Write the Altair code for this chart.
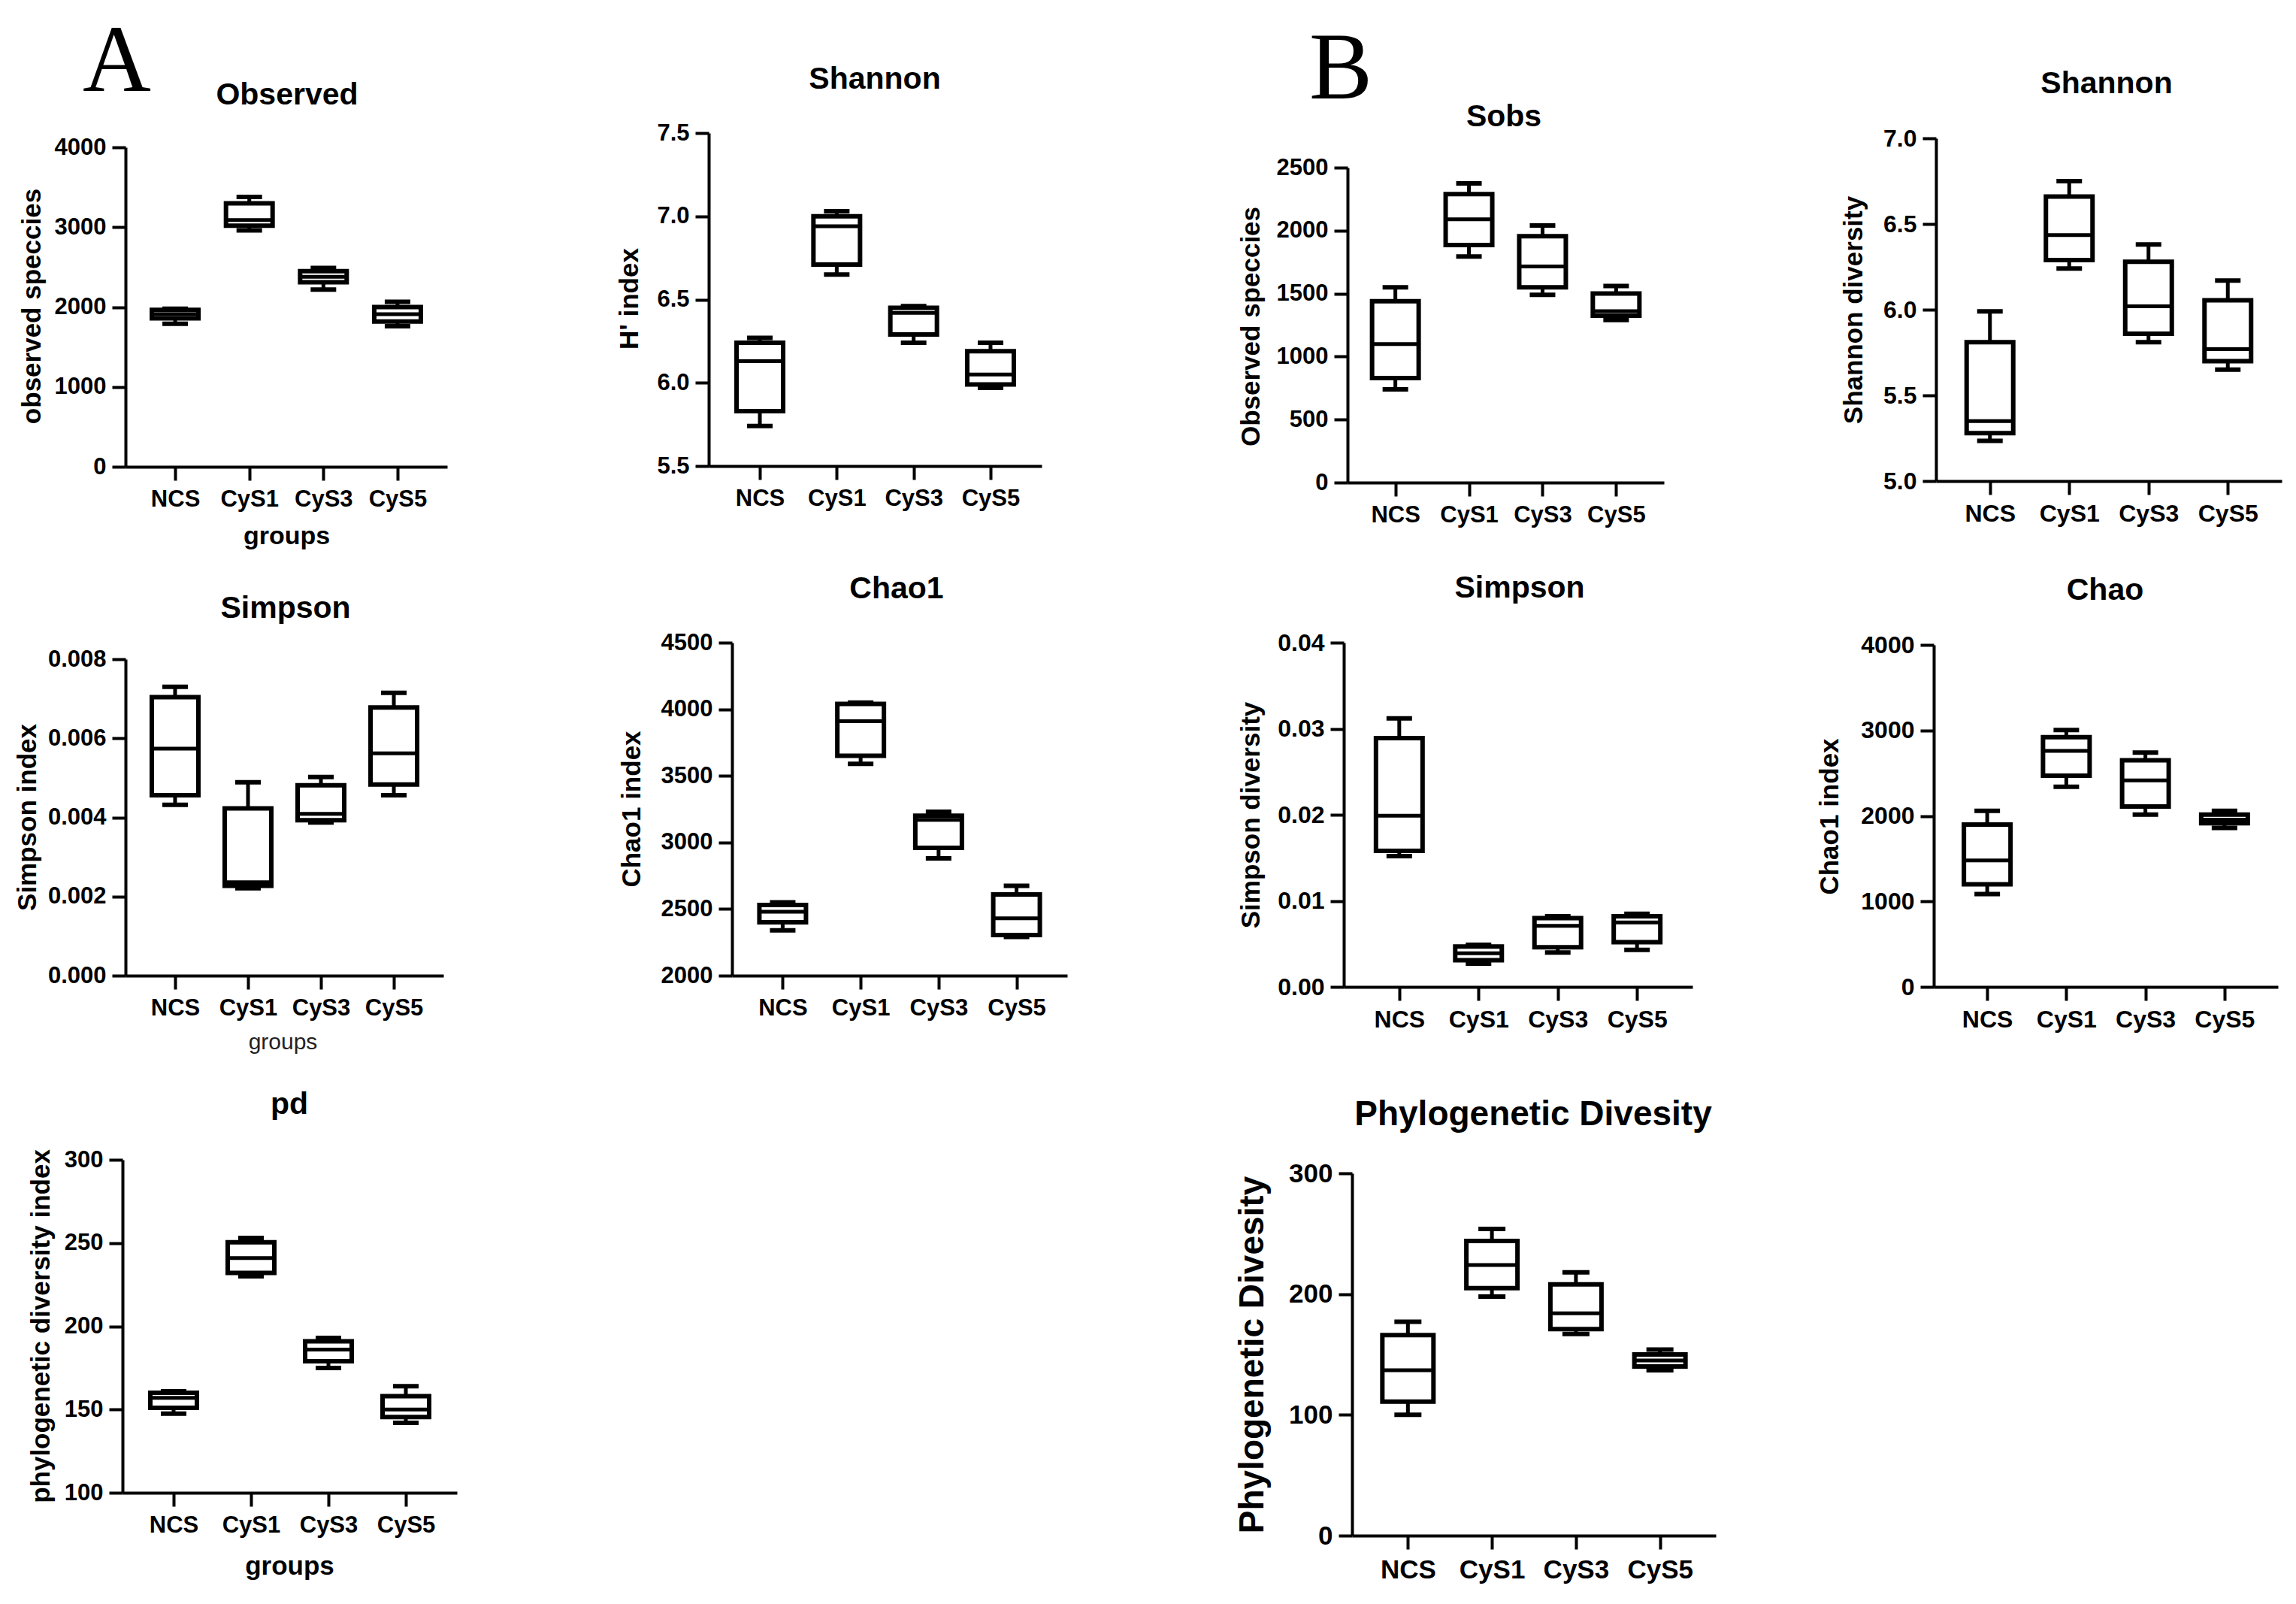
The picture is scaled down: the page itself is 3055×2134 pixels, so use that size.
import altair as alt
import pandas as pd

GROUPS = ["NCS", "CyS1", "CyS3", "CyS5"]

# five-number summaries, one row per group: [min, q1, median, q3, max]
A_OBSERVED = [[1790, 1860, 1910, 1965, 1980],
              [2960, 3020, 3090, 3300, 3380],
              [2220, 2310, 2380, 2450, 2490],
              [1760, 1820, 1910, 2000, 2065]]
A_SHANNON = [[5.74, 5.83, 6.13, 6.24, 6.27],
             [6.65, 6.71, 6.94, 7.00, 7.03],
             [6.24, 6.29, 6.42, 6.45, 6.46],
             [5.97, 5.99, 6.05, 6.19, 6.24]]
A_SIMPSON = [[0.00432, 0.00456, 0.00574, 0.00704, 0.00730],
             [0.00221, 0.00227, 0.00236, 0.00423, 0.00489],
             [0.00387, 0.00393, 0.00409, 0.00481, 0.00502],
             [0.00456, 0.00483, 0.00562, 0.00678, 0.00715]]
A_CHAO1 = [[2340, 2400, 2480, 2530, 2550],
           [3590, 3650, 3910, 4040, 4050],
           [2880, 2960, 3170, 3200, 3230],
           [2290, 2305, 2430, 2610, 2675]]
A_PD = [[147.5, 151, 157, 160, 161],
        [230, 232, 241, 250.5, 253],
        [175, 179, 186, 191, 193],
        [142, 145.5, 150, 158, 164]]
B_SOBS = [[740, 830, 1100, 1440, 1550],
          [1795, 1885, 2090, 2290, 2375],
          [1490, 1550, 1715, 1955, 2040],
          [1290, 1325, 1360, 1500, 1560]]
B_SHANNON = [[5.235, 5.28, 5.35, 5.81, 5.99],
             [6.24, 6.29, 6.435, 6.66, 6.75],
             [5.81, 5.86, 6.02, 6.28, 6.38],
             [5.65, 5.70, 5.77, 6.055, 6.17]]
B_SIMPSON = [[0.0152, 0.0158, 0.0199, 0.0289, 0.0312],
             [0.0027, 0.0031, 0.0039, 0.0047, 0.0049],
             [0.0040, 0.0046, 0.0071, 0.0080, 0.0082],
             [0.0043, 0.0052, 0.0075, 0.0082, 0.0085]]
B_CHAO = [[1085, 1200, 1480, 1900, 2060],
          [2340, 2470, 2760, 2920, 3005],
          [2015, 2110, 2415, 2650, 2740],
          [1860, 1915, 1955, 2015, 2060]]
B_PD = [[100, 111, 137, 166, 177],
        [198, 205, 224, 244, 254],
        [167, 171, 184, 208, 218],
        [137, 140, 145, 150, 154]]

FONT = "Liberation Sans"
COL_X = [163, 943, 1788, 2573]
COL_W = [780, 845, 785, 463]
ROW0_Y = 177
ROW_Y = [178, 856, 1544]
ROW_H = [678, 688, 500]
LETTER_FS = 126


def panel(stats, p):
    cx, cw = COL_X[p["col"]], COL_W[p["col"]]
    cy, ch = ROW_Y[p["row"]], ROW_H[p["row"]]
    df = pd.DataFrame(stats, columns=["mn", "q1", "med", "q3", "mx"])
    df.insert(0, "group", GROUPS)
    ax_rel = p["ax"] - cx
    top_rel = p["top"] - cy
    bot_rel = p["bot"] - cy
    lab_fs = p.get("lab_fs", 31)
    t_fs = p.get("t_fs", 41)
    box = p.get("box", 62)
    cap = p.get("cap", 34)

    xkw = dict(offset=bot_rel - ch, domainColor="black", domainWidth=4,
               tickColor="black", tickWidth=4, tickSize=18,
               labelFont=FONT, labelFontSize=lab_fs, labelFontWeight="bold",
               labelColor="black", labelAngle=0, labelPadding=10, grid=False)
    if "xlab" in p:
        xl = p["xlab"]
        xkw.update(title=xl["text"], titleX=xl["x"] - cx, titleY=xl["y"] - p["bot"],
                   titleBaseline="alphabetic", titleAlign="center", titleFont=FONT,
                   titleFontSize=xl["fs"], titleFontWeight=xl["w"], titleColor=xl["color"])
    else:
        xkw.update(title=None)
    x = alt.X("group:N", sort=GROUPS,
              scale=alt.Scale(type="point", domain=GROUPS,
                              range=[ax_rel, p["xend"] - cx], padding=p["pad"]),
              axis=alt.Axis(**xkw))

    yaxis = alt.Axis(values=p["ticks"], format=p["fmt"], offset=-ax_rel,
                     domainColor="black", domainWidth=4, tickColor="black",
                     tickWidth=4, tickSize=18, labelFont=FONT, labelFontSize=lab_fs,
                     labelFontWeight="bold", labelColor="black", labelPadding=8,
                     labelOverlap=False, grid=False, title=p["ylab"],
                     titleX=p["ylx"] - p["ax"], titleY=p["yly"] - cy, titleAngle=270,
                     titleAlign="center", titleBaseline="middle", titleFont=FONT,
                     titleFontSize=p.get("yt_fs", 35), titleFontWeight="bold",
                     titleColor="black", titleLimit=1200)
    ysc = alt.Scale(domain=p["dom"], range=[bot_rel, top_rel], nice=False, zero=False)

    def Y(f):
        return alt.Y(f"{f}:Q", scale=ysc, axis=yaxis)

    y1 = min(0, top_rel - lab_fs / 2)
    off = y1 - (p["tbase"] - cy) - 0.21 * t_fs
    title = alt.Title(p["title"], font=FONT, fontSize=t_fs, fontWeight="bold",
                      color="black", anchor="middle", frame="group",
                      dx=p["tcx"] - (cx + cw / 2), offset=round(off, 1), limit=1500)

    base = alt.Chart(df)
    lo = base.mark_rule(color="black", strokeWidth=5).encode(x=x, y=Y("mn"), y2="q1:Q")
    hi = base.mark_rule(color="black", strokeWidth=5).encode(x=x, y=Y("q3"), y2="mx:Q")
    cap_lo = base.mark_tick(orient="horizontal", color="black", size=cap, thickness=6,
                            opacity=1).encode(x=x, y=Y("mn"))
    cap_hi = base.mark_tick(orient="horizontal", color="black", size=cap, thickness=6,
                            opacity=1).encode(x=x, y=Y("mx"))
    bx = base.mark_bar(size=box, fill="white", stroke="black", strokeWidth=6,
                       opacity=1).encode(x=x, y=Y("q1"), y2="q3:Q")
    md = base.mark_tick(orient="horizontal", color="black", size=box, thickness=5,
                        opacity=1).encode(x=x, y=Y("med"))
    return alt.layer(lo, hi, cap_lo, cap_hi, bx, md).properties(
        width=cw, height=ch, title=title)


def spacer(w, h, title=None):
    c = alt.Chart(pd.DataFrame({"v": [0]})).mark_point(opacity=0, size=1).encode(
        x=alt.value(0), y=alt.value(0)).properties(width=w, height=h)
    if title is not None:
        c = c.properties(title=title)
    return c


def letter(text, left, baseline, col):
    off = -1 - (baseline - ROW0_Y) - 0.21 * LETTER_FS
    return alt.Title(text, font="Liberation Serif", fontSize=LETTER_FS,
                     fontWeight="normal", color="black", anchor="start", frame="group",
                     dx=left - COL_X[col], offset=round(off, 1))


GB = dict(text="groups", fs=34, w="bold", color="black")

specs = {
    "a_obs": dict(col=0, row=0, ax=167, xend=595, top=197, bot=622, pad=0.67,
                  dom=[0, 4000], ticks=[0, 1000, 2000, 3000, 4000], fmt="d",
                  title="Observed", tcx=382, tbase=140, ylab="observed speccies",
                  ylx=42, yly=408, xlab=dict(GB, x=381, y=724)),
    "a_sha": dict(col=1, row=0, ax=943, xend=1386, top=178, bot=621, pad=0.665,
                  dom=[5.5, 7.5], ticks=[5.5, 6.0, 6.5, 7.0, 7.5], fmt=".1f",
                  title="Shannon", tcx=1164, tbase=120, ylab="H' index", ylx=837, yly=398),
    "b_sobs": dict(col=2, row=0, ax=1793, xend=2214, top=224, bot=643, pad=0.65,
                   dom=[0, 2500], ticks=[0, 500, 1000, 1500, 2000, 2500], fmt="d",
                   title="Sobs", tcx=2001, tbase=169, ylab="Observed speccies",
                   ylx=1664, yly=435, lab_fs=31),
    "b_sha": dict(col=3, row=0, ax=2576, xend=3036, top=185, bot=641, pad=0.68,
                  dom=[5.0, 7.0], ticks=[5.0, 5.5, 6.0, 6.5, 7.0], fmt=".1f",
                  title="Shannon", tcx=2803, tbase=125, ylab="Shannon diversity",
                  ylx=2466, yly=413, lab_fs=32),
    "a_sim": dict(col=0, row=1, ax=167, xend=590, top=878, bot=1299, pad=0.68,
                  dom=[0, 0.008], ticks=[0, 0.002, 0.004, 0.006, 0.008], fmt=".3f",
                  title="Simpson", tcx=380, tbase=823, ylab="Simpson index", ylx=36,
                  yly=1088, xlab=dict(text="groups", fs=30, w="normal", color="#222222",
                                      x=376, y=1396)),
    "a_chao": dict(col=1, row=1, ax=974, xend=1420, top=856, bot=1299, pad=0.65,
                   dom=[2000, 4500], ticks=[2000, 2500, 3000, 3500, 4000, 4500], fmt="d",
                   title="Chao1", tcx=1193, tbase=798, ylab="Chao1 index", ylx=840, yly=1077),
    "b_sim": dict(col=2, row=1, ax=1788, xend=2252, top=856, bot=1314, pad=0.70,
                  dom=[0, 0.04], ticks=[0, 0.01, 0.02, 0.03, 0.04], fmt=".2f",
                  title="Simpson", tcx=2022, tbase=796, ylab="Simpson diversity",
                  ylx=1664, yly=1085, lab_fs=32),
    "b_chao": dict(col=3, row=1, ax=2573, xend=3031, top=859, bot=1314, pad=0.676,
                   dom=[0, 4000], ticks=[0, 1000, 2000, 3000, 4000], fmt="d",
                   title="Chao", tcx=2801, tbase=799, ylab="Chao1 index", ylx=2434,
                   yly=1087, lab_fs=32),
    "a_pd": dict(col=0, row=2, ax=163, xend=608, top=1544, bot=1987, pad=0.66,
                 dom=[100, 300], ticks=[100, 150, 200, 250, 300], fmt="d",
                 title="pd", tcx=385, tbase=1484, ylab="phylogenetic diversity index",
                 ylx=54, yly=1765, xlab=dict(GB, fs=35, x=385, y=2095)),
    "b_pd": dict(col=2, row=2, ax=1799, xend=2283, top=1562, bot=2044, pad=0.665,
                 dom=[0, 300], ticks=[0, 100, 200, 300], fmt="d",
                 title="Phylogenetic Divesity", tcx=2040, tbase=1498,
                 ylab="Phylogenetic Divesity", ylx=1666, yly=1803, lab_fs=35,
                 yt_fs=46, t_fs=46, box=68, cap=36),
}

cells = [
    spacer(COL_W[0], 1, letter("A", 110, 121, 0)),
    spacer(COL_W[1], 1),
    spacer(COL_W[2], 1, letter("B", 1742, 131, 2)),
    spacer(COL_W[3], 1),
    panel(A_OBSERVED, specs["a_obs"]),
    panel(A_SHANNON, specs["a_sha"]),
    panel(B_SOBS, specs["b_sobs"]),
    panel(B_SHANNON, specs["b_sha"]),
    panel(A_SIMPSON, specs["a_sim"]),
    panel(A_CHAO1, specs["a_chao"]),
    panel(B_SIMPSON, specs["b_sim"]),
    panel(B_CHAO, specs["b_chao"]),
    panel(A_PD, specs["a_pd"]),
    spacer(COL_W[1], ROW_H[2]),
    panel(B_PD, specs["b_pd"]),
    spacer(COL_W[3], ROW_H[2]),
]

chart = alt.concat(*cells, columns=4, spacing=0, align="each", bounds="flush").properties(
    padding={"left": 10, "top": 11, "right": 10, "bottom": 10}
).configure_view(stroke="transparent")

chart.save("out.html", embed_options={"renderer": "svg", "actions": False})
